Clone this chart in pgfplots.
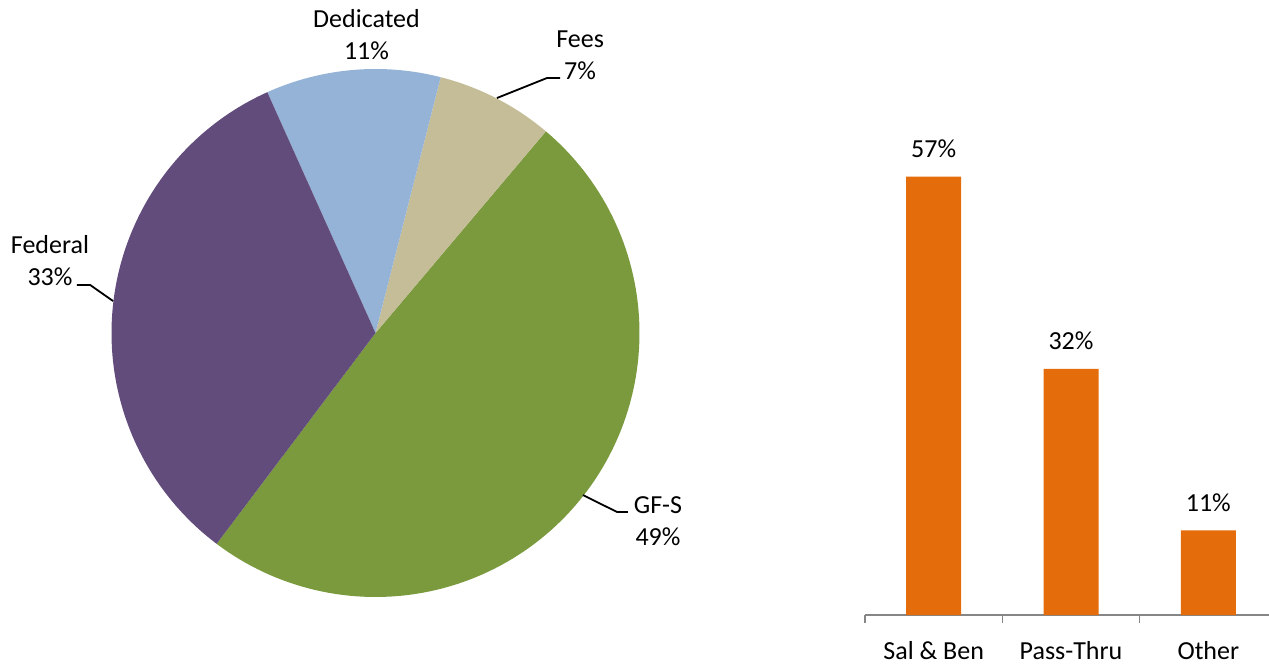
\documentclass[border=0pt]{standalone}
\usepackage{pgfplots}
\pgfplotsset{compat=1.18}
\usepackage{fontspec}
\setmainfont{Carlito}
\definecolor{gfs}{HTML}{7A9A3D}
\definecolor{fed}{HTML}{624C7C}
\definecolor{ded}{HTML}{95B3D7}
\definecolor{fees}{HTML}{C4BD97}
\definecolor{bar}{HTML}{E46C0A}
\definecolor{axgray}{HTML}{868686}
\newcommand\lbl{\fontsize{26}{32}\selectfont}
\begin{document}
\begin{tikzpicture}[x=1pt,y=1pt]
\path[use as bounding box] (0,0) rectangle (1269,664);
% ---------------- pie ----------------
\begin{axis}[
  at={(111.5pt,67pt)}, anchor=south west,
  width=528pt, height=528pt, scale only axis,
  xmin=-1, xmax=1, ymin=-1, ymax=1,
  hide axis, clip=false,
]
% slices: GF-S 49.1, Fees 7.2, Dedicated 10.7, Federal 33.0 (angles in degrees)
\addplot[fill=gfs, draw=none, domain=-127:49.8, samples=120] ({cos(x)},{sin(x)}) -- (axis cs:0,0) -- cycle;
\addplot[fill=fees, draw=none, domain=49.8:75.7, samples=30] ({cos(x)},{sin(x)}) -- (axis cs:0,0) -- cycle;
\addplot[fill=ded, draw=none, domain=75.7:114.2, samples=40] ({cos(x)},{sin(x)}) -- (axis cs:0,0) -- cycle;
\addplot[fill=fed, draw=none, domain=114.2:233, samples=100] ({cos(x)},{sin(x)}) -- (axis cs:0,0) -- cycle;
% leader lines
\addplot[black, line width=1.8pt] coordinates {(0.460,0.890) (0.650,0.966) (0.699,0.966)};
\addplot[black, line width=1.8pt] coordinates {(-1.131,0.182) (-1.081,0.182) (-0.994,0.121)};
\addplot[black, line width=1.8pt] coordinates {(0.786,-0.614) (0.915,-0.678) (0.956,-0.678)};
% labels
\node[align=center, font=\lbl, inner sep=0pt] at (axis cs:-0.034,1.129) {Dedicated\\11\%};
\node[align=center, font=\lbl, inner sep=0pt] at (axis cs:0.775,1.053) {Fees\\7\%};
\node[align=center, font=\lbl, inner sep=0pt] at (axis cs:-1.233,0.273) {Federal\\33\%};
\node[align=center, font=\lbl, inner sep=0pt] at (axis cs:1.070,-0.714) {GF-S\\49\%};
\end{axis}
% ---------------- bars ----------------
\begin{axis}[
  at={(865pt,49pt)}, anchor=south west,
  width=412pt, height=538.3pt, scale only axis,
  xmin=-0.5, xmax=2.5, ymin=0, ymax=70,
  axis y line=none, axis x line*=bottom,
  axis line style={axgray, line width=1.5pt},
  xtick={0,1,2}, xticklabels={Sal \& Ben, Pass-Thru, Other},
  major tick length=0pt,
  minor xtick={-0.5,0.5,1.5,2.5}, minor tick length=8pt,
  tick align=outside, tick style={axgray, line width=1.5pt},
  xticklabel style={font=\lbl, anchor=base, yshift=-44pt},
  ybar, bar width=55pt,
  nodes near coords={\pgfmathprintnumber[assume math mode=true]{\pgfplotspointmeta}\%},
  every node near coord/.append style={font=\lbl, anchor=base, yshift=19pt, inner sep=0pt},
  clip=false,
]
\addplot[fill=bar, draw=none] coordinates {(0,57) (1,32) (2,11)};
\end{axis}
\end{tikzpicture}
\end{document}
